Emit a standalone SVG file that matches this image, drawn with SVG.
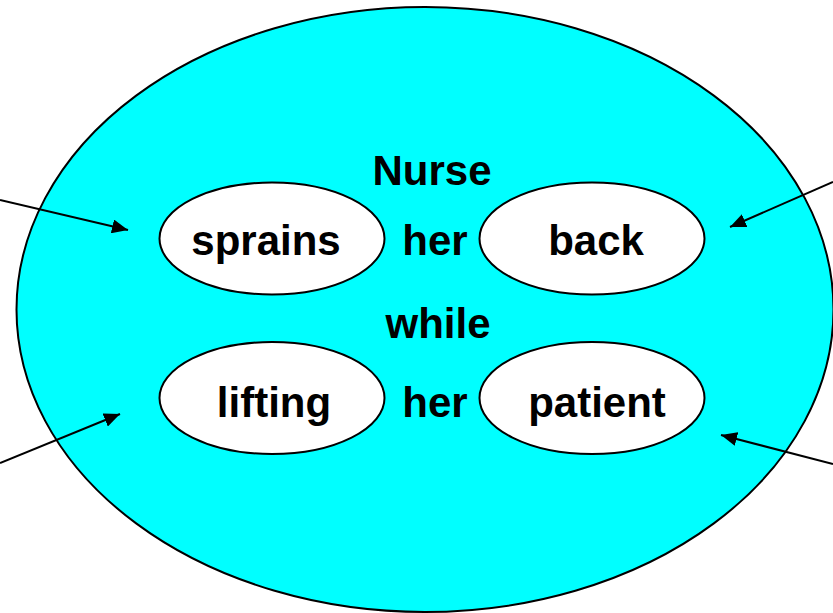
<svg xmlns="http://www.w3.org/2000/svg" width="833" height="613" viewBox="0 0 833 613">
<defs>
<marker id="ah" markerUnits="userSpaceOnUse" markerWidth="16" markerHeight="14" refX="16" refY="7" orient="auto">
<path d="M0,0 L16,7 L0,14 Z" fill="#000"/>
</marker>
<style>
.big{fill:#00FFFF;stroke:#000;stroke-width:2}
.node{fill:#fff;stroke:#000;stroke-width:2}
.t{font-family:"Liberation Sans",Arial,sans-serif;font-weight:bold;font-size:42px;fill:#000;text-anchor:middle}
.c{stroke:#000;stroke-width:2;fill:none;marker-end:url(#ah)}
</style>
</defs>
<g id="outer">
<ellipse class="big" cx="425" cy="309.5" rx="408.5" ry="302.5"/>
</g>
<g id="label-nurse"><text class="t" x="432" y="185">Nurse</text></g>
<g id="label-her1"><text class="t" x="435" y="255">her</text></g>
<g id="label-while"><text class="t" x="438" y="338">while</text></g>
<g id="label-her2"><text class="t" x="435" y="417">her</text></g>
<g id="sprains">
<ellipse class="node" cx="272" cy="238.5" rx="112.5" ry="56"/>
<text class="t" x="266" y="255">sprains</text>
</g>
<g id="back">
<ellipse class="node" cx="592" cy="238.5" rx="112.5" ry="56"/>
<text class="t" x="596" y="255">back</text>
</g>
<g id="lifting">
<ellipse class="node" cx="272" cy="398" rx="112.5" ry="56"/>
<text class="t" x="274" y="417">lifting</text>
</g>
<g id="patient">
<ellipse class="node" cx="592" cy="398" rx="112.5" ry="56"/>
<text class="t" x="597" y="417">patient</text>
</g>
<g id="connectors">
<line class="c" x1="0" y1="200" x2="128" y2="230"/>
<line class="c" x1="0" y1="463" x2="120" y2="414"/>
<line class="c" x1="833" y1="182" x2="730" y2="227"/>
<line class="c" x1="833" y1="464" x2="721" y2="435"/>
</g>
</svg>
